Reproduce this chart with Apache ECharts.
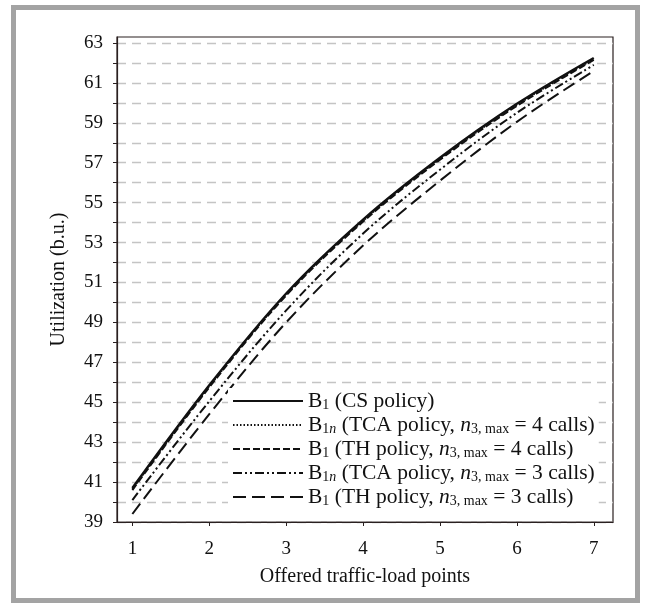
<!DOCTYPE html>
<html><head><meta charset="utf-8">
<script src="https://cdn.jsdelivr.net/npm/echarts@6/dist/echarts.min.js"></script>
<style>html,body{margin:0;padding:0;background:#fff}#c{width:646px;height:608px}</style>
</head><body><div id="c"></div>
<script>
const xValues = [1, 2, 3, 4, 5, 6, 7];
const xTickLabels = [1, 2, 3, 4, 5, 6, 7];
const yTickValues = [39,40,41,42,43,44,45,46,47,48,49,50,51,52,53,54,55,56,57,58,59,60,61,62,63];
const yTickLabels = [39,41,43,45,47,49,51,53,55,57,59,61,63];
const seriesNames = ['cs','tca4','th4','tca3','th3'];
const csValues   = [40.70, 45.85, 50.45, 54.15, 57.25, 59.95, 62.25];
const tca4Values = [40.65, 45.80, 50.40, 54.10, 57.20, 59.90, 62.20];
const th4Values  = [40.60, 45.75, 50.35, 54.05, 57.15, 59.85, 62.15];
const tca3Values = [40.10, 45.05, 49.60, 53.45, 56.65, 59.50, 61.90];
const th3Values  = [39.40, 44.40, 49.00, 52.85, 56.10, 59.05, 61.60];
const legendTexts = {
  cs:   'B{s|1} (CS policy)',
  tca4: 'B{s|1}{si|n} (TCA policy, {i|n}{s|3, max} = 4 calls)',
  th4:  'B{s|1} (TH policy, {i|n}{s|3, max} = 4 calls)',
  tca3: 'B{s|1}{si|n} (TCA policy, {i|n}{s|3, max} = 3 calls)',
  th3:  'B{s|1} (TH policy, {i|n}{s|3, max} = 3 calls)'
};

const serif = 'Liberation Serif, Times New Roman, serif';
const lineColor = '#111';
function mk(name, vals, width, type) {
  return {
    name: name, type: 'line', smooth: 0.35, symbol: 'none',
    data: xValues.map((x, i) => [x, vals[i]]),
    lineStyle: { color: lineColor, width: width, type: type },
    itemStyle: { color: lineColor },
    z: 3
  };
}
const chart = echarts.init(document.getElementById('c'));
chart.setOption({
  animation: false,
  backgroundColor: '#fff',
  graphic: [{
    type: 'rect', silent: true,
    shape: { x: 13.5, y: 7.5, width: 624, height: 593 },
    style: { fill: 'none', stroke: '#a3a3a3', lineWidth: 5 }
  }],
  grid: { left: 117, top: 37, right: 33, bottom: 86, show: true, borderColor: '#2a2020', borderWidth: 1.2, backgroundColor: 'transparent' },
  xAxis: {
    type: 'value', min: 0.8, max: 7.25,
    name: 'Offered traffic-load points', nameLocation: 'middle', nameGap: 45,
    nameTextStyle: { fontFamily: serif, fontSize: 20, color: '#111' },
    axisLine: { show: true, lineStyle: { color: '#2a2020', width: 1.2 } },
    axisTick: { show: true, length: 4, inside: false, customValues: xTickLabels, lineStyle: { color: '#2a2020' } },
    axisLabel: { customValues: xTickLabels, fontFamily: serif, fontSize: 19, color: '#111', margin: 18 },
    splitLine: { show: false }
  },
  yAxis: {
    type: 'value', min: 39, max: 63.3, interval: 1,
    name: 'Utilization (b.u.)', nameLocation: 'middle', nameGap: 48, nameRotate: 90,
    nameTextStyle: { fontFamily: serif, fontSize: 20, color: '#111' },
    axisLine: { show: true, lineStyle: { color: '#2a2020', width: 1.2 } },
    axisTick: { show: true, length: 4, customValues: yTickValues, lineStyle: { color: '#2a2020' } },
    axisLabel: { customValues: yTickLabels, fontFamily: serif, fontSize: 19, color: '#111', margin: 14 },
    splitLine: { show: true, lineStyle: { color: '#c4c4c4', width: 1.3, type: [9, 6] } }
  },
  legend: {
    orient: 'vertical', left: 228, top: 388,
    itemWidth: 70, itemHeight: 12, itemGap: 2,
    backgroundColor: '#fff', padding: [2, 4, 2, 4],
    itemStyle: { opacity: 0 },
    data: seriesNames,
    formatter: function (n) { return legendTexts[n]; },
    textStyle: {
      fontFamily: serif, fontSize: 21.5, color: '#111', lineHeight: 22,
      rich: {
        s: { fontFamily: serif, fontSize: 14, color: '#111', verticalAlign: 'bottom', lineHeight: 22, padding: [7, 0, 0, 0] },
        si: { fontFamily: serif, fontSize: 14, fontStyle: 'italic', color: '#111', verticalAlign: 'bottom', lineHeight: 22, padding: [7, 0, 0, 0] },
        i: { fontFamily: serif, fontSize: 21.5, fontStyle: 'italic', color: '#111', lineHeight: 22 }
      }
    }
  },
  series: [
    mk('cs', csValues, 2.4, 'solid'),
    mk('tca4', tca4Values, 2, [1.5, 2]),
    mk('th4', th4Values, 2, [7, 3]),
    mk('tca3', tca3Values, 2, [9, 3, 2, 3, 2, 3]),
    mk('th3', th3Values, 2, [13, 6])
  ]
});
</script></body></html>
